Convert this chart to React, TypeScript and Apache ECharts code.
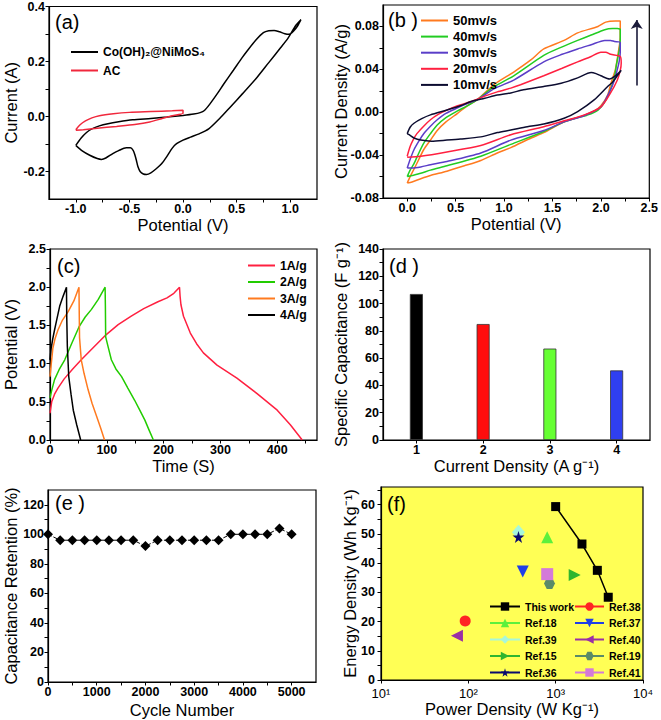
import React, { useEffect, useRef } from "react";
import * as echarts from "echarts";

const FONT = "'Liberation Sans', Arial, Helvetica, sans-serif";

// ---------------- (a) CV comparison ----------------
const A_NAMES = ["Co(OH)₂@NiMoS₄", "AC"];
const CV_HYBRID: number[][] = [
  [-1.0, -0.105], [-0.95, -0.078], [-0.9, -0.058], [-0.85, -0.045], [-0.78, -0.034], [-0.7, -0.026],
  [-0.6, -0.019], [-0.47, -0.012], [-0.3, -0.007], [-0.15, -0.002], [0.0, 0.004], [0.1, 0.009],
  [0.16, 0.014], [0.2, 0.022], [0.25, 0.045], [0.32, 0.083], [0.38, 0.118], [0.47, 0.168],
  [0.55, 0.213], [0.6, 0.239], [0.68, 0.278], [0.75, 0.305], [0.8, 0.312], [0.85, 0.313],
  [0.9, 0.308], [0.95, 0.301], [0.99, 0.299], [1.03, 0.31], [1.07, 0.33], [1.1, 0.352],
  [1.05, 0.33], [0.98, 0.285], [0.91, 0.25], [0.8, 0.196], [0.69, 0.142], [0.56, 0.085],
  [0.44, 0.034], [0.34, -0.008], [0.24, -0.045], [0.15, -0.063], [0.07, -0.075], [0.0, -0.086],
  [-0.06, -0.099], [-0.1, -0.115], [-0.15, -0.145], [-0.2, -0.172], [-0.25, -0.19], [-0.3, -0.205],
  [-0.34, -0.211], [-0.37, -0.209], [-0.4, -0.2], [-0.42, -0.183], [-0.435, -0.159], [-0.45, -0.138],
  [-0.465, -0.123], [-0.49, -0.114], [-0.53, -0.114], [-0.6, -0.124], [-0.655, -0.135], [-0.72, -0.151],
  [-0.76, -0.156], [-0.8, -0.153], [-0.87, -0.141], [-0.94, -0.125], [-1.0, -0.105],
];
const CV_AC: number[][] = [
  [-1.0, -0.048], [-0.96, -0.03], [-0.91, -0.016], [-0.85, -0.005], [-0.78, 0.003], [-0.65, 0.01],
  [-0.5, 0.015], [-0.3, 0.018], [-0.1, 0.021], [0.0, 0.023], [0.0, 0.012], [-0.1, 0.003],
  [-0.2, -0.008], [-0.31, -0.02], [-0.45, -0.029], [-0.62, -0.036], [-0.8, -0.043], [-0.93, -0.048],
  [-1.0, -0.05],
];
const A_X_LABELS = [-1, -0.5, 0, 0.5, 1];
const A_X_TICKS = [-1, -0.75, -0.5, -0.25, 0, 0.25, 0.5, 0.75, 1];
const A_Y_LABELS = [-0.2, 0, 0.2, 0.4];
const A_Y_TICKS = [-0.2, -0.1, 0, 0.1, 0.2, 0.3, 0.4];

// ---------------- (b) CV at scan rates ----------------
const B_NAMES = ["50mv/s", "40mv/s", "30mv/s", "20mv/s", "10mv/s"];
const CV_50: number[][] = [
  [0, -0.066], [0.03, -0.06], [0.07, -0.053], [0.12, -0.044], [0.17, -0.035], [0.24, -0.026],
  [0.31, -0.017], [0.4, -0.009], [0.52, -0.001], [0.62, 0.006], [0.72, 0.0115], [0.9, 0.026],
  [1.1, 0.0375], [1.28, 0.049], [1.41, 0.059], [1.62, 0.067], [1.76, 0.074], [1.97, 0.08],
  [2.05, 0.084], [2.15, 0.085], [2.2, 0.085], [2.2, 0.07], [2.18, 0.056], [2.15, 0.04],
  [2.1, 0.026], [2.07, 0.016], [2.0, 0.006], [1.93, 0.001], [1.76, -0.005], [1.62, -0.009],
  [1.41, -0.019], [1.28, -0.024], [1.07, -0.033], [0.93, -0.038], [0.76, -0.045], [0.59, -0.05],
  [0.41, -0.055], [0.24, -0.059], [0.14, -0.062], [0.05, -0.065], [0, -0.066],
];
const CV_40: number[][] = [
  [0, -0.06], [0.03, -0.054], [0.07, -0.048], [0.12, -0.038], [0.17, -0.029], [0.24, -0.02],
  [0.31, -0.012], [0.4, -0.005], [0.52, 0.0013], [0.62, 0.006], [0.72, 0.0115], [0.9, 0.024],
  [1.1, 0.034], [1.41, 0.053], [1.6, 0.061], [1.76, 0.067], [1.9, 0.072], [2.04, 0.077],
  [2.12, 0.078], [2.17, 0.078], [2.2, 0.077], [2.2, 0.068], [2.19, 0.058], [2.16, 0.044],
  [2.14, 0.033], [2.07, 0.0146], [1.97, 0.002], [1.85, -0.003], [1.76, -0.005], [1.62, -0.009],
  [1.41, -0.018], [1.07, -0.03], [0.76, -0.041], [0.41, -0.05], [0.24, -0.054], [0.14, -0.057],
  [0.05, -0.059], [0, -0.06],
];
const CV_30: number[][] = [
  [0, -0.052], [0.03, -0.044], [0.07, -0.035], [0.12, -0.027], [0.17, -0.02], [0.24, -0.013],
  [0.31, -0.007], [0.4, -0.001], [0.52, 0.004], [0.62, 0.008], [0.72, 0.0115], [0.9, 0.022],
  [1.1, 0.03], [1.41, 0.047], [1.6, 0.054], [1.76, 0.059], [1.9, 0.063], [2.04, 0.067],
  [2.1, 0.067], [2.14, 0.066], [2.2, 0.065], [2.2, 0.056], [2.19, 0.048], [2.17, 0.04],
  [2.14, 0.03], [2.1, 0.021], [2.0, 0.005], [1.83, -0.003], [1.62, -0.009], [1.41, -0.017],
  [1.07, -0.026], [0.76, -0.038], [0.41, -0.046], [0.24, -0.049], [0.14, -0.051], [0.05, -0.052],
  [0, -0.052],
];
const CV_20: number[][] = [
  [0, -0.041], [0.03, -0.032], [0.06, -0.026], [0.1, -0.02], [0.17, -0.013], [0.24, -0.007],
  [0.32, -0.002], [0.41, 0.002], [0.52, 0.006], [0.66, 0.01], [0.8, 0.015], [0.93, 0.019],
  [1.07, 0.0225], [1.17, 0.0256], [1.41, 0.034], [1.6, 0.041], [1.76, 0.047], [1.9, 0.052],
  [2.0, 0.056], [2.05, 0.056], [2.1, 0.054], [2.2, 0.052], [2.21, 0.046], [2.2, 0.039],
  [2.17, 0.03], [2.1, 0.018], [2.0, 0.005], [1.83, -0.0025], [1.62, -0.008], [1.41, -0.0135],
  [1.07, -0.021], [0.76, -0.031], [0.41, -0.037], [0.14, -0.041], [0, -0.042],
];
const CV_10: number[][] = [
  [0, -0.02], [0.03, -0.014], [0.07, -0.0103], [0.15, -0.006], [0.24, -0.0025], [0.41, 0.002],
  [0.55, 0.006], [0.66, 0.01], [0.8, 0.013], [0.93, 0.016], [1.07, 0.018], [1.2, 0.021],
  [1.41, 0.024], [1.59, 0.027], [1.76, 0.032], [1.9, 0.037], [1.95, 0.036], [2.0, 0.034],
  [2.09, 0.031], [2.15, 0.034], [2.21, 0.039], [2.17, 0.034], [2.12, 0.028], [2.07, 0.024],
  [1.93, 0.0115], [1.76, 0.0006], [1.62, -0.0056], [1.41, -0.011], [1.24, -0.0135], [1.07, -0.0166],
  [0.93, -0.019], [0.76, -0.023], [0.55, -0.025], [0.41, -0.026], [0.25, -0.027], [0.14, -0.026],
  [0.07, -0.024], [0.02, -0.021], [0, -0.02],
];
const B_ARROW: number[][] = [[2.37, 0.025], [2.37, 0.086]];
const B_X_LABELS = [0, 0.5, 1, 1.5, 2, 2.5];
const B_X_TICKS = [0, 0.25, 0.5, 0.75, 1, 1.25, 1.5, 1.75, 2, 2.25, 2.5];
const B_Y_LABELS = [-0.08, -0.04, 0, 0.04, 0.08];
const B_Y_TICKS = [-0.08, -0.06, -0.04, -0.02, 0, 0.02, 0.04, 0.06, 0.08];

// ---------------- (c) GCD ----------------
const C_NAMES = ["1A/g", "2A/g", "3A/g", "4A/g"];
const GCD_1: number[][] = [
  [0, 0.35], [3, 0.5], [8, 0.6], [14, 0.68], [25, 0.8], [40, 0.93], [55, 1.05], [75, 1.2],
  [99, 1.38], [120, 1.51], [143, 1.62], [165, 1.72], [190, 1.81], [206, 1.86], [218, 1.92],
  [228, 2.0], [229, 1.88], [230.5, 1.77], [235, 1.62], [247, 1.4], [258, 1.26], [270, 1.14],
  [294, 0.98], [329, 0.81], [364, 0.61], [400, 0.39], [423, 0.2], [444, 0.0],
];
const GCD_2: number[][] = [
  [0, 0.55], [3, 0.65], [8, 0.79], [16, 0.92], [26, 1.05], [38, 1.26], [51, 1.48], [62, 1.61],
  [73, 1.71], [85, 1.84], [97, 2.0], [97.5, 1.75], [98, 1.35], [103, 1.2], [108, 1.05],
  [116, 0.93], [126, 0.83], [137, 0.68], [149, 0.52], [158, 0.39], [167, 0.26], [175, 0.12],
  [182, 0.0],
];
const GCD_3: number[][] = [
  [0, 0.83], [2, 0.98], [5, 1.2], [9, 1.33], [14, 1.44], [22, 1.57], [32, 1.68], [42, 1.82],
  [51, 2.0], [51.5, 1.65], [52, 1.34], [55, 1.05], [60, 0.87], [67, 0.66], [74, 0.48],
  [82, 0.31], [89, 0.16], [96, 0.0],
];
const GCD_4: number[][] = [
  [0, 1.05], [2, 1.2], [5, 1.33], [8, 1.44], [12, 1.58], [17, 1.75], [23, 1.88], [29, 2.0],
  [29.5, 1.6], [30.5, 1.23], [33, 0.83], [37, 0.6], [41, 0.39], [47, 0.2], [54, 0.0],
];
const C_X_LABELS = [0, 100, 200, 300, 400];
const C_X_TICKS = [0, 50, 100, 150, 200, 250, 300, 350, 400, 450];
const C_Y_LABELS = [0, 0.5, 1, 1.5, 2, 2.5];
const C_Y_TICKS = [0, 0.25, 0.5, 0.75, 1, 1.25, 1.5, 1.75, 2, 2.25, 2.5];

// ---------------- (d) Specific capacitance ----------------
const D_CATEGORIES = ["1", "2", "3", "4"];
const D_VALUES = [107, 85, 67, 51];
const D_Y_LABELS = [0, 20, 40, 60, 80, 100, 120, 140];
const D_Y_TICKS = [0, 10, 20, 30, 40, 50, 60, 70, 80, 90, 100, 110, 120, 130, 140];

// ---------------- (e) Cycling ----------------
const E_CYCLES = [0, 250, 500, 750, 1000, 1250, 1500, 1750, 2000, 2250, 2500, 2750, 3000, 3250, 3500, 3750, 4000, 4250, 4500, 4750, 5000];
const E_RETENTION = [100, 96, 96, 96, 96, 96, 96, 96, 92, 96, 96, 96, 96, 96, 96, 100, 100, 100, 100, 104, 100];
const E_X_LABELS = [0, 1000, 2000, 3000, 4000, 5000];
const E_X_TICKS = [0, 500, 1000, 1500, 2000, 2500, 3000, 3500, 4000, 4500, 5000];
const E_Y_LABELS = [0, 20, 40, 60, 80, 100, 120];
const E_Y_TICKS = [0, 10, 20, 30, 40, 50, 60, 70, 80, 90, 100, 110, 120];

// ---------------- (f) Ragone ----------------
const F_THIS_POWER = [1000, 2000, 3000, 4000];
const F_THIS_ENERGY = [59.3, 46.5, 37.5, 28.3];
const F_REF_NAMES = ["Ref.38", "Ref.18", "Ref.37", "Ref.39", "Ref.40", "Ref.15", "Ref.19", "Ref.36", "Ref.41"];
const F_REF_POWER = [92, 800, 420, 375, 74, 1650, 850, 375, 800];
const F_REF_ENERGY = [20.2, 48.8, 37.1, 50.5, 15.1, 35.9, 33.0, 48.9, 36.2];
const F_LEFT_LEGEND = ["This work", "Ref.18", "Ref.39", "Ref.15", "Ref.36"];
const F_RIGHT_LEGEND = ["Ref.38", "Ref.37", "Ref.40", "Ref.19", "Ref.41"];
const F_X_LABELS = [10, 100, 1000, 10000];
const F_SUP: Record<number, string> = { 10: "10¹", 100: "10²", 1000: "10³", 10000: "10⁴" };
const F_Y_LABELS = [0, 10, 20, 30, 40, 50, 60];
const F_Y_TICKS = [0, 5, 10, 15, 20, 25, 30, 35, 40, 45, 50, 55, 60, 65];

const PANEL_LABELS = ["(a)", "(b )", "(c)", "(d )", "(e )", "(f)"];

// ---------------- styles ----------------
const STAR = "path://M50,0 L61,35 L98,35 L68,57 L79,91 L50,70 L21,91 L32,57 L2,35 L39,35 Z";
const HEX = "path://M25,0 L75,0 L100,50 L75,100 L25,100 L0,50 Z";
const REF_STYLE: Record<string, any> = {
  "Ref.38": { symbol: "circle", color: "#ff2424", size: 11, rotate: 0 },
  "Ref.18": { symbol: "triangle", color: "#5cf03c", size: 12, rotate: 0 },
  "Ref.37": { symbol: "triangle", color: "#1f3fe8", size: 12, rotate: 180 },
  "Ref.39": { symbol: "diamond", color: "#a8f7da", size: [13, 15], rotate: 0 },
  "Ref.40": { symbol: "triangle", color: "#9a30a6", size: 12, rotate: 90 },
  "Ref.15": { symbol: "triangle", color: "#2fb52f", size: 12, rotate: -90 },
  "Ref.19": { symbol: HEX, color: "#5a8a68", size: 11, rotate: 0 },
  "Ref.36": { symbol: STAR, color: "#0a0a6e", size: 12, rotate: 0 },
  "Ref.41": { symbol: "rect", color: "#d47ad8", size: 12, rotate: 0 },
};

const GRIDS = [
  { left: 49, top: 6, width: 268, height: 193 },
  { left: 383, top: 5, width: 268, height: 193 },
  { left: 50, top: 249, width: 267, height: 191 },
  { left: 383, top: 249, width: 267, height: 191 },
  { left: 48, top: 490, width: 268, height: 192 },
  { left: 381, top: 487, width: 262, height: 193 },
];
const PANEL_POS = [[55, 12], [388, 10], [57, 256], [389, 256], [55, 493], [387, 494]];

const BLACK = "#000";

function axisBase(gridIndex: number, name: string, nameGap: number) {
  return {
    gridIndex,
    name,
    nameLocation: "middle",
    nameGap,
    nameMoveOverlap: false,
    nameTextStyle: { fontFamily: FONT, fontSize: 16.5, lineHeight: 17, color: BLACK },
    axisLine: { show: true, onZero: false, lineStyle: { color: BLACK, width: 1.2 } },
    splitLine: { show: false },
  };
}

function valueAxis(
  gridIndex: number, min: number, max: number, labels: number[], ticks: number[],
  fmt: (v: number) => string, name: string, nameGap: number, margin = 4
) {
  return {
    ...axisBase(gridIndex, name, nameGap),
    type: "value",
    min,
    max,
    axisTick: { show: true, inside: false, length: 3.5, customValues: ticks, lineStyle: { color: BLACK, width: 1 } },
    axisLabel: {
      customValues: labels,
      formatter: fmt,
      fontFamily: FONT,
      fontWeight: "bold",
      fontSize: 12.5,
      lineHeight: 12,
      color: BLACK,
      margin,
    },
  };
}

const f1 = (v: number) => v.toFixed(1);
const f2 = (v: number) => v.toFixed(2);
const f0 = (v: number) => String(Math.round(v));

function lineSer(name: string, data: number[][], color: string, idx: number, smooth: number) {
  return {
    type: "line",
    name,
    xAxisIndex: idx,
    yAxisIndex: idx,
    data,
    symbol: "none",
    showSymbol: false,
    smooth,
    silent: true,
    lineStyle: { color, width: 1.5 },
    itemStyle: { color },
  };
}

function legendBase(left: number, top: number, data: string[], fontSize: number, itemW: number, itemH: number, gap: number, hideSymbol: boolean) {
  const lg: any = {
    left,
    top,
    orient: "vertical",
    padding: 0,
    itemWidth: itemW,
    itemHeight: itemH,
    itemGap: gap,
    selectedMode: false,
    data,
    textStyle: { fontFamily: FONT, fontWeight: "bold", fontSize, color: BLACK, padding: [0, 0, 0, 0] },
  };
  if (hideSymbol) lg.itemStyle = { opacity: 0 };
  return lg;
}

function buildOption() {
  const B_COLORS = ["#ff7a1f", "#22cc22", "#5a3ec8", "#ff2040", "#0c0c30"];
  const B_DATA = [CV_50, CV_40, CV_30, CV_20, CV_10];
  const C_COLORS = ["#ff2040", "#22cc00", "#ff7a1f", "#000000"];
  const C_DATA = [GCD_1, GCD_2, GCD_3, GCD_4];
  const D_COLORS = ["#000000", "#ff0d0d", "#66ff33", "#2f3ff0"];

  const series: any[] = [];
  series.push(lineSer(A_NAMES[0], CV_HYBRID, "#000000", 0, 0.25));
  series.push(lineSer(A_NAMES[1], CV_AC, "#f0283c", 0, 0.25));
  B_NAMES.forEach((n, i) => {
    const s: any = lineSer(n, B_DATA[i], B_COLORS[i], 1, 0.25);
    if (i === 4) {
      s.markLine = {
        silent: true,
        symbol: ["none", "arrow"],
        symbolSize: 9,
        label: { show: false },
        lineStyle: { color: "#1b1b3a", width: 1.6, type: "solid" },
        data: [[{ coord: B_ARROW[0] }, { coord: B_ARROW[1] }]],
      };
    }
    series.push(s);
  });
  C_NAMES.forEach((n, i) => series.push(lineSer(n, C_DATA[i], C_COLORS[i], 2, 0)));
  series.push({
    type: "bar",
    xAxisIndex: 3,
    yAxisIndex: 3,
    barWidth: 13,
    silent: true,
    data: D_VALUES.map((v, i) => ({
      value: v,
      itemStyle: { color: D_COLORS[i], borderColor: "#333", borderWidth: 0.8 },
    })),
  });
  series.push({
    type: "line",
    name: "retention",
    xAxisIndex: 4,
    yAxisIndex: 4,
    data: E_CYCLES.map((c, i) => [c, E_RETENTION[i]]),
    symbol: "diamond",
    symbolSize: 10,
    silent: true,
    itemStyle: { color: "#000" },
    lineStyle: { color: "#000", width: 1, type: "dashed" },
  });
  series.push({
    type: "line",
    name: "This work",
    xAxisIndex: 5,
    yAxisIndex: 5,
    data: F_THIS_POWER.map((p, i) => [p, F_THIS_ENERGY[i]]),
    symbol: "rect",
    symbolSize: 9,
    silent: true,
    itemStyle: { color: "#000" },
    lineStyle: { color: "#000", width: 1.5 },
  });
  F_REF_NAMES.forEach((n, i) => {
    const st = REF_STYLE[n];
    series.push({
      type: "line",
      name: n,
      xAxisIndex: 5,
      yAxisIndex: 5,
      data: [[F_REF_POWER[i], F_REF_ENERGY[i]]],
      symbol: st.symbol,
      symbolSize: st.size,
      symbolRotate: st.rotate,
      silent: true,
      itemStyle: { color: st.color },
      lineStyle: { color: st.color, width: 1.5 },
    });
  });

  const xAxis: any[] = [
    valueAxis(0, -1.25, 1.25, A_X_LABELS, A_X_TICKS, f1, "Potential (V)", 17),
    valueAxis(1, -0.25, 2.5, B_X_LABELS, B_X_TICKS, f1, "Potential (V)", 17.5),
    valueAxis(2, 0, 470, C_X_LABELS, C_X_TICKS, f0, "Time (S)", 17),
    {
      ...axisBase(3, "Current Density (A g⁻¹)", 17),
      type: "category",
      data: D_CATEGORIES,
      boundaryGap: true,
      axisTick: { show: true, alignWithLabel: true, length: 3.5, lineStyle: { color: BLACK, width: 1 } },
      axisLabel: { fontFamily: FONT, fontWeight: "bold", fontSize: 12.5, lineHeight: 12, color: BLACK, margin: 4 },
    },
    valueAxis(4, 0, 5500, E_X_LABELS, E_X_TICKS, f0, "Cycle Number", 19),
    {
      ...axisBase(5, "Power Density (W Kg⁻¹)", 20.5),
      type: "log",
      logBase: 10,
      min: 10,
      max: 10000,
      axisTick: { show: true, length: 3.5, customValues: F_X_LABELS, lineStyle: { color: BLACK, width: 1 } },
      axisLabel: {
        customValues: F_X_LABELS,
        formatter: (v: number) => F_SUP[Math.round(v)] || String(v),
        fontFamily: FONT,
        fontSize: 13,
        lineHeight: 13,
        color: BLACK,
        margin: 7,
      },
    },
  ];
  const yAxis: any[] = [
    valueAxis(0, -0.3, 0.4, A_Y_LABELS, A_Y_TICKS, f1, "Current (A)", 30),
    valueAxis(1, -0.08, 0.1, B_Y_LABELS, B_Y_TICKS, f2, "Current Density (A/g)", 34),
    valueAxis(2, 0, 2.5, C_Y_LABELS, C_Y_TICKS, f1, "Potential (V)", 31),
    valueAxis(3, 0, 140, D_Y_LABELS, D_Y_TICKS, f0, "Specific Capacitance (F g⁻¹)", 34),
    valueAxis(4, 0, 130, E_Y_LABELS, E_Y_TICKS, f0, "Capacitance Retention (%)", 28.5),
    valueAxis(5, 0, 66, F_Y_LABELS, F_Y_TICKS, f0, "Energy Density (Wh Kg⁻¹)", 23, 6),
  ];

  const grid = GRIDS.map((g, i) => ({
    ...g,
    show: true,
    borderColor: BLACK,
    borderWidth: 1.2,
    backgroundColor: i === 5 ? "#ffff55" : "transparent",
  }));

  const title = PANEL_LABELS.map((t, i) => ({
    text: t,
    left: PANEL_POS[i][0],
    top: PANEL_POS[i][1],
    padding: 0,
    textStyle: { fontFamily: FONT, fontSize: 20, fontWeight: "normal", color: BLACK },
  }));

  const legend = [
    legendBase(70, 46, A_NAMES, 12, 27, 14, 6.5, true),
    legendBase(420, 14, B_NAMES, 13, 27, 13, 3.1, true),
    legendBase(247, 259.5, C_NAMES, 12.3, 27, 12.3, 4.5, true),
    legendBase(489, 601, F_LEFT_LEGEND, 10.5, 30, 10.5, 5.5, false),
    legendBase(574, 601, F_RIGHT_LEGEND, 10.5, 29, 10.5, 5.5, false),
  ];

  return {
    animation: false,
    backgroundColor: "#ffffff",
    textStyle: { fontFamily: FONT },
    title,
    legend,
    grid,
    xAxis,
    yAxis,
    series,
  };
}

export default function App() {
  const ref = useRef<HTMLDivElement | null>(null);
  useEffect(() => {
    if (!ref.current) return;
    const chart = echarts.init(ref.current, undefined, { renderer: "svg" });
    chart.setOption(buildOption() as any);
    return () => chart.dispose();
  }, []);
  return (
    <div
      ref={ref}
      style={{ position: "absolute", left: 0, top: 0, width: 661, height: 720, background: "#fff" }}
    />
  );
}
